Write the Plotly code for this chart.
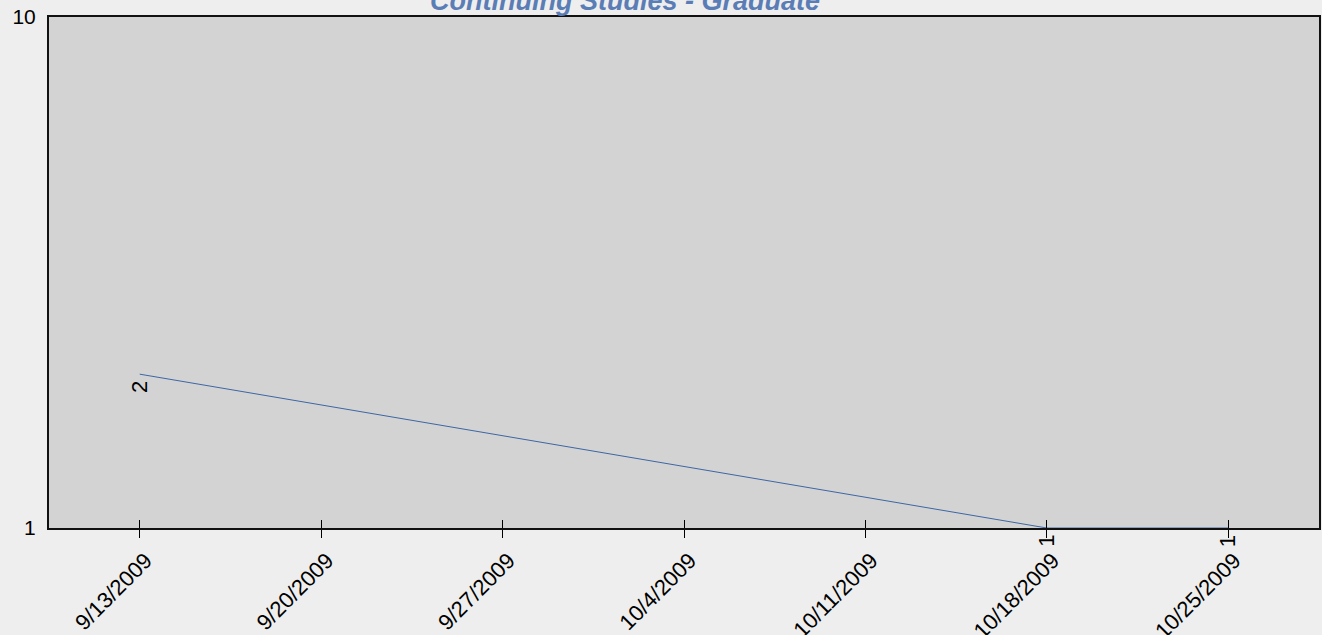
import math
import plotly.graph_objects as go

categories = ["9/13/2009", "9/20/2009", "9/27/2009", "10/4/2009",
              "10/11/2009", "10/18/2009", "10/25/2009"]
values = [2, None, None, None, None, 1, 1]
title_text = "Continuing Studies - Graduate"
y_ticks = [1, 10]

FONT = "Liberation Sans, Arial, sans-serif"

fig = go.Figure()
fig.add_trace(go.Scatter(
    x=categories, y=values, mode="lines", connectgaps=True,
    line=dict(color="#3d66a5", width=1), cliponaxis=False,
    hoverinfo="skip", showlegend=False,
))
# overlay axis giving inside ticks so ticks cross the axis line
fig.add_trace(go.Scatter(x=categories, y=[None] * len(categories), xaxis="x2",
                         showlegend=False, hoverinfo="skip"))

for c, v in zip(categories, values):
    if v is not None:
        fig.add_annotation(x=c, y=math.log10(v), xref="x", yref="y",
                           text=str(v), showarrow=False, textangle=-90,
                           yshift=-13, xshift=-1,
                           font=dict(family=FONT, size=22, color="#000"))

fig.add_annotation(text="<b><i>" + title_text + "</i></b>", xref="paper", yref="paper",
                   x=(625 - 49) / 1270, y=1, yanchor="bottom", xanchor="center",
                   yshift=-1, showarrow=False,
                   font=dict(family=FONT, size=27, color="#5b7db6"))

fig.update_layout(
    width=1322, height=635,
    margin=dict(l=49, r=3, t=17, b=107, autoexpand=False),
    paper_bgcolor="#eeeeee", plot_bgcolor="#d3d3d3",
    font=dict(family=FONT, size=22, color="#000"),
    xaxis=dict(type="category", categoryorder="array", categoryarray=categories,
               range=[-0.5, len(categories) - 0.5], automargin=False,
               tickangle=-45, ticks="outside", ticklen=8, tickwidth=1, tickcolor="#000",
               ticklabelstandoff=1, ticklabelshift=6,
               showline=True, linecolor="#111", linewidth=2, mirror=True,
               showgrid=False, zeroline=False, layer="below traces",
               tickfont=dict(size=22)),
    xaxis2=dict(type="category", categoryorder="array", categoryarray=categories,
                range=[-0.5, len(categories) - 0.5], overlaying="x", side="bottom",
                anchor="y", ticks="inside", ticklen=8, tickwidth=1, tickcolor="#000",
                showticklabels=False, showgrid=False, zeroline=False, showline=False),
    yaxis=dict(type="log", range=[0, 1], tickvals=y_ticks, ticktext=[str(t) for t in y_ticks],
               ticks="", showline=True, linecolor="#111", linewidth=2, mirror=True,
               showgrid=False, zeroline=False, ticklabelstandoff=7, automargin=False,
               tickfont=dict(size=21)),
)

fig.write_html("out.html", config={"displayModeBar": False},
               post_script="document.body.style.margin='0px';"
                           "document.body.style.background='#eeeeee';")
